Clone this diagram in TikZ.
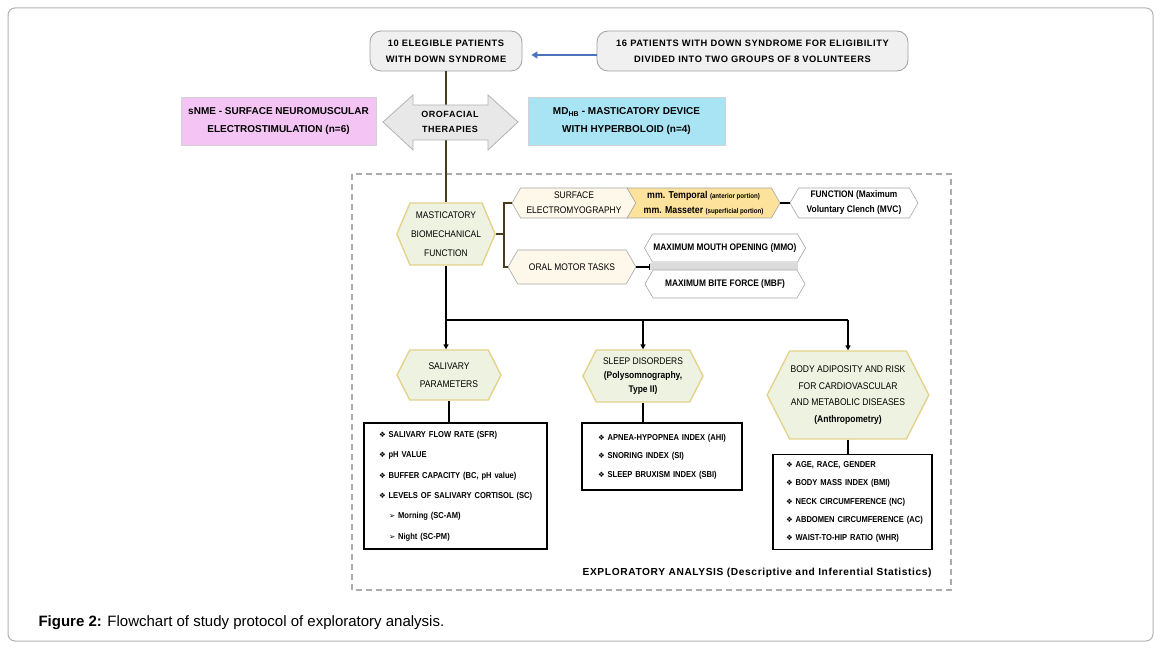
\documentclass[tikz,border=0pt]{standalone}
\usepackage{fontspec}
\setmainfont{Liberation Sans}
\newfontfamily\narrowfont[FakeStretch=0.88]{Liberation Sans}
\newfontfamily\spacedfont[LetterSpace=6]{Liberation Sans}
\newfontfamily\symfont{DejaVu Sans}
\usetikzlibrary{shapes.symbols,arrows.meta,positioning}

\definecolor{hexfill}{HTML}{EEF3E1}
\definecolor{hexline}{HTML}{E3D28C}
\definecolor{creamfill}{HTML}{FDF8E9}
\definecolor{goldfill}{HTML}{FDE29B}
\definecolor{pinkfill}{HTML}{F4C4F4}
\definecolor{cyanfill}{HTML}{A8E4F4}
\definecolor{stemline}{HTML}{4A3A1E}
\definecolor{bluearrow}{HTML}{4A72BE}
\definecolor{boxgray}{HTML}{F0F0F0}

% list entries, one line each
\newcommand{\itm}[1]{\mbox{{\symfont\fontsize{7.5}{7.5}\selectfont ❖}\ #1}}
\newcommand{\subitm}[1]{\mbox{\hspace*{10pt}{\symfont\fontsize{7.5}{7.5}\selectfont ➢}\ #1}}

\tikzset{
  startbox/.style={draw=gray!75, fill=boxgray, rounded corners=11pt, line width=0.8pt,
    align=center, minimum height=40pt, font=\spacedfont\bfseries\fontsize{9.3}{16}\selectfont},
  groupbox/.style={draw=gray!35, line width=0.6pt, align=center, minimum height=48pt,
    font=\bfseries\fontsize{10}{18}\selectfont},
  hexbox/.style={signal, signal to=east and west, signal pointer angle=126, draw=hexline,
    line width=1.4pt, fill=hexfill, align=center, inner sep=1pt},
  taskbox/.style={signal, signal to=east and west, signal pointer angle=120, draw=gray!70,
    line width=0.6pt, fill=creamfill, align=center, inner sep=1pt,
    font=\narrowfont\fontsize{9.6}{15}\selectfont},
  boldtask/.style={taskbox, fill=white, font=\narrowfont\bfseries\fontsize{9.5}{15}\selectfont},
  listbox/.style={draw=black, line width=1.5pt, fill=white, align=left, inner ysep=0pt,
    font=\narrowfont\bfseries\fontsize{8.6}{20.4}\selectfont},
  stem/.style={stemline, line width=2pt},
  flow/.style={black, line width=1.6pt},
  flowarrow/.style={flow, -{Triangle[width=5pt,length=5pt]}}
}

\begin{document}
\begin{tikzpicture}[x=1pt,y=-1pt]
\useasboundingbox (0,0) rectangle (1160,652);

% outer frame and analysis frame
\draw[gray!60, line width=1pt, rounded corners=7pt] (8,8) rectangle (1153,641);
\draw[gray!65, line width=1.2pt, dash pattern=on 6pt off 4pt] (352,174) rectangle (951,590);

% patients
\node[startbox, minimum width=152pt] (elig) at (446,51) {10 ELEGIBLE PATIENTS\\WITH DOWN SYNDROME};
\node[startbox, minimum width=311pt] (pool) at (752.5,51) {16 PATIENTS WITH DOWN SYNDROME FOR ELIGIBILITY\\DIVIDED INTO TWO GROUPS OF 8 VOLUNTEERS};
\draw[bluearrow, line width=2pt, -{Triangle[width=7pt,length=6pt]}] ([yshift=-4pt]pool.west) -- ([xshift=9pt,yshift=-4pt]elig.east);

% therapies
\node[hexbox, signal pointer angle=134, minimum width=95pt, minimum height=62pt, font=\narrowfont\fontsize{9.6}{19}\selectfont] (mast) at (446,234) {MASTICATORY\\BIOMECHANICAL\\FUNCTION};
\draw[stem] (elig.south) -- (elig.south |- mast.north);
\draw[gray!60, fill=gray!18, line width=0.8pt] (383,122) -- (413,95) -- (413,105) -- (488,105) -- (488,95)
  -- (518,122) -- (488,150) -- (488,140) -- (413,140) -- (413,150) -- cycle;
\node[font=\spacedfont\bfseries\fontsize{9}{15}\selectfont, align=center] (therapy) at (450,122) {OROFACIAL\\THERAPIES};
\node[groupbox, fill=pinkfill, minimum width=195pt] (snme) at (278.5,121) {sNME - SURFACE NEUROMUSCULAR\\ELECTROSTIMULATION (n=6)};
\node[groupbox, fill=cyanfill, minimum width=197pt] (mdhb) at (626.5,121.5) {MD\textsubscript{HB} - MASTICATORY DEVICE\\WITH HYPERBOLOID (n=4)};

% masticatory branch
\node[taskbox, minimum width=124pt, minimum height=30pt] (surf) at (574,203) {SURFACE\\ELECTROMYOGRAPHY};
\node[taskbox, signal from=west, signal to=east, fill=goldfill, minimum width=153pt, minimum height=30pt,
  font=\narrowfont\bfseries\fontsize{10}{15}\selectfont] (muscle) at (703.6,203)
  {mm. Temporal {\fontsize{7}{7}\selectfont (anterior portion)}\\mm. Masseter {\fontsize{7}{7}\selectfont (superficial portion)}};
\node[boldtask, minimum width=128pt, minimum height=30pt] (mvc) at (854,203) {FUNCTION (Maximum\\Voluntary Clench (MVC)};
\draw[flow, line width=1.4pt] (muscle.east) -- (mvc.west);
\node[taskbox, minimum width=128pt, minimum height=34pt] (oral) at (572,267) {ORAL MOTOR TASKS};
\fill[gray!28] (650,263) rectangle (798,270);
\node[boldtask, minimum width=160pt, minimum height=28pt] (mmo) at (725,248) {MAXIMUM MOUTH OPENING (MMO)};
\node[boldtask, minimum width=160pt, minimum height=28pt] (mbf) at (725,284) {MAXIMUM BITE FORCE (MBF)};
\coordinate (barend) at (650,267);
\draw[flow, line width=1.4pt, -{Bar[width=6pt]}] (oral.east) -- (barend);
\coordinate (fork) at (504,234);
\draw[stem, line width=1.6pt] (mast.east) -- (fork);
\draw[stem, line width=1.6pt] (surf.west) -| (fork) |- (oral.west);

% outcomes
\node[hexbox, minimum width=104pt, minimum height=50pt, font=\narrowfont\fontsize{9.7}{18}\selectfont] (saliv) at (449,375) {SALIVARY\\PARAMETERS};
\node[hexbox, minimum width=120pt, minimum height=52pt, font=\narrowfont\fontsize{9.6}{14}\selectfont] (sleep) at (643,376)
  {SLEEP DISORDERS\\\bfseries(Polysomnography,\\\bfseries Type II)};
\node[hexbox, minimum width=155pt, minimum height=88pt, font=\narrowfont\fontsize{9.7}{16.5}\selectfont] (body) at (848,395)
  {BODY ADIPOSITY AND RISK\\FOR CARDIOVASCULAR\\AND METABOLIC DISEASES\\\bfseries(Anthropometry)};
\coordinate (bus) at (446,320);
\draw[flow] (mast.south) -- (bus);
\draw[flow, line width=2.2pt] (bus) -- (bus -| body.north);
\draw[flowarrow] (bus) -- (bus |- saliv.north);
\draw[flowarrow] (bus -| sleep.north) -- (sleep.north);
\draw[flowarrow] (bus -| body.north) -- (body.north);

% measured variables
\node[listbox, minimum width=183pt, minimum height=126pt, text width=153pt, inner xsep=15pt] (salivlist) at (455.5,486)
  {\itm{SALIVARY FLOW RATE (SFR)}\\\itm{pH VALUE}\\\itm{BUFFER CAPACITY (BC, pH value)}\\\itm{LEVELS OF SALIVARY CORTISOL (SC)}\\\subitm{Morning (SC-AM)}\\\subitm{Night (SC-PM)}};
\node[listbox, minimum width=160pt, minimum height=67pt, text width=128pt, inner xsep=16pt,
  font=\narrowfont\bfseries\fontsize{8.6}{18.5}\selectfont] (sleeplist) at (662,456.5)
  {\itm{APNEA-HYPOPNEA INDEX (AHI)}\\\itm{SNORING INDEX (SI)}\\\itm{SLEEP BRUXISM INDEX (SBI)}};
\node[listbox, minimum width=159pt, minimum height=95pt, text width=133pt, inner xsep=13pt,
  font=\narrowfont\bfseries\fontsize{8.6}{18.25}\selectfont] (bodylist) at (852.5,502)
  {\itm{AGE, RACE, GENDER}\\\itm{BODY MASS INDEX (BMI)}\\\itm{NECK CIRCUMFERENCE (NC)}\\\itm{ABDOMEN CIRCUMFERENCE (AC)}\\\itm{WAIST-TO-HIP RATIO (WHR)}};
\draw[flow] (saliv.south) -- (saliv.south |- salivlist.north);
\draw[flow] (sleep.south) -- (sleep.south |- sleeplist.north);
\draw[flow] (body.south) -- (body.south |- bodylist.north);

\node[anchor=east, font=\spacedfont\bfseries\fontsize{10.2}{12}\selectfont] (explore) at (935,573)
  {EXPLORATORY ANALYSIS (Descriptive and Inferential Statistics)};

% caption
\node[anchor=west, font=\fontsize{15}{17}\selectfont] (caption) at (35,623)
  {\textbf{Figure 2:} Flowchart of study protocol of exploratory analysis.};
\end{tikzpicture}
\end{document}
